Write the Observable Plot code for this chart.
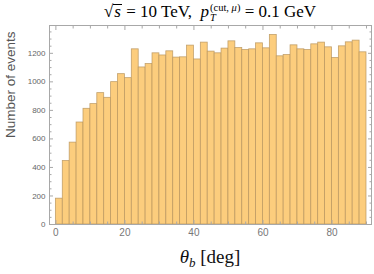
<!DOCTYPE html>
<html>
<head>
<meta charset="utf-8">
<script src="https://cdn.jsdelivr.net/npm/d3@7"></script>
<script src="https://cdn.jsdelivr.net/npm/@observablehq/plot@0.6"></script>
<style>
  html, body { margin: 0; padding: 0; background: #fff; }
  #wrap { position: relative; width: 374px; height: 274px; overflow: hidden; }
  #title { position: absolute; left: 49px; width: 322px; top: 2px; text-align: center;
           font-family: "Liberation Serif", "DejaVu Serif", serif; font-size: 17px; line-height: 20px; color: #000; white-space: nowrap; }
  #title .rad { display: inline-block; border-top: 1px solid #000; line-height: 14px; font-style: italic; padding: 0 1px; }
  #title .ss { display: inline-flex; flex-direction: column; font-size: 10.5px; line-height: 10px; vertical-align: 6px; margin-left: 1px; text-align: left; }
  #xlabel { position: absolute; left: 49px; width: 322px; top: 245px; text-align: center;
            font-family: "Liberation Serif", "DejaVu Serif", serif; font-size: 19px; line-height: 24px; color: #111; }
  #xlabel sub { font-size: 13px; vertical-align: -4px; line-height: 0; }
  #chart { position: absolute; left: 0; top: 24px; }
</style>
</head>
<body>
<div id="wrap">
  <div id="title">√<span class="rad">s</span> = 10 TeV,&nbsp; <i>p</i><span class="ss"><span>(cut, <i>μ</i>)</span><span><i>T</i></span></span> = 0.1 GeV</div>
  <div id="chart"></div>
  <div id="xlabel"><i>θ</i><sub><i>b</i></sub> [deg]</div>
</div>
<script>
// Histogram of theta_b (deg), 2-degree bins from 0 to 90
const binWidth = 2;
const counts = [181, 445, 574, 715, 811, 844, 921, 888, 998, 1054,
                1026, 1228, 1101, 1125, 1200, 1185, 1214, 1170, 1172, 1254,
                1157, 1275, 1212, 1200, 1233, 1284, 1237, 1223, 1228, 1270,
                1235, 1329, 1179, 1188, 1256, 1228, 1223, 1263, 1275, 1242,
                1167, 1249, 1277, 1289, 1207];
const xMajor = [0, 20, 40, 60, 80];
const xMinor = [5, 10, 15, 25, 30, 35, 45, 50, 55, 65, 70, 75, 85, 90];
const yMajor = [0, 200, 400, 600, 800, 1000, 1200];
const yMinor = [50, 100, 150, 250, 300, 350, 450, 500, 550, 650, 700, 750, 850, 900, 950, 1050, 1100, 1150, 1250, 1300, 1350];
const yLabelText = "Number of events";

const bins = counts.map((c, i) => ({x1: i * binWidth, x2: (i + 1) * binWidth, count: c}));

const frameColor = "#a8a8a8";
const blank = () => "";

const chart = Plot.plot({
  width: 374,
  height: 222,
  marginLeft: 49,
  marginRight: 3,
  marginTop: 1,
  marginBottom: 22,
  style: {fontFamily: "'Liberation Sans', Arial, sans-serif", background: "#fff"},
  x: {domain: [-1.85, 91.45], axis: null},
  y: {domain: [0, 1395], axis: null},
  marks: [
    Plot.rectY(bins, {x1: "x1", x2: "x2", y1: 0, y2: "count", fill: "#fccd7d", stroke: "#b8955e", strokeWidth: 0.8, strokeOpacity: 0.85}),
    Plot.frame({stroke: frameColor, strokeWidth: 1}),
    // labels
    Plot.axisY(yMajor, {anchor: "left", tickSize: 0, tickPadding: 4, fontSize: 8, fill: "#666", label: null, tickFormat: d3.format("d")}),
    Plot.axisX(xMajor, {anchor: "bottom", tickSize: 0, tickPadding: 4, fontSize: 10, fill: "#777", label: null, tickFormat: d3.format("d")}),
    // inward ticks
    Plot.axisY(yMajor, {anchor: "left", tickSize: -4, tickFormat: blank, stroke: frameColor, label: null}),
    Plot.axisY(yMinor, {anchor: "left", tickSize: -2.5, tickFormat: blank, stroke: frameColor, label: null}),
    Plot.axisY(yMajor, {anchor: "right", tickSize: -4, tickFormat: blank, stroke: frameColor, label: null}),
    Plot.axisY(yMinor, {anchor: "right", tickSize: -2.5, tickFormat: blank, stroke: frameColor, label: null}),
    Plot.axisX(xMajor, {anchor: "bottom", tickSize: -4, tickFormat: blank, stroke: frameColor, label: null}),
    Plot.axisX(xMinor, {anchor: "bottom", tickSize: -2.5, tickFormat: blank, stroke: frameColor, label: null}),
    Plot.axisX(xMajor, {anchor: "top", tickSize: -4, tickFormat: blank, stroke: frameColor, label: null}),
    Plot.axisX(xMinor, {anchor: "top", tickSize: -2.5, tickFormat: blank, stroke: frameColor, label: null}),
    Plot.text([yLabelText], {frameAnchor: "left", rotate: -90, dx: -39, dy: 13, fontSize: 13.5, fill: "#555"})
  ]
});
document.getElementById("chart").appendChild(chart);
</script>
</body>
</html>
